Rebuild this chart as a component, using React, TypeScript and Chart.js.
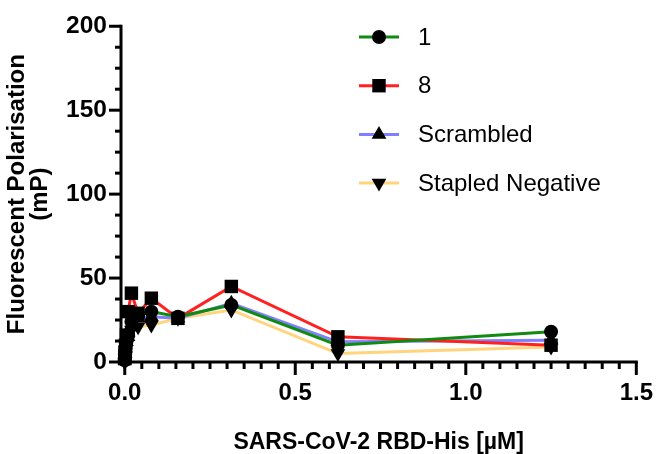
import React, { useEffect, useRef } from "react";
import { Chart, registerables } from "chart.js";

Chart.register(...registerables);

// ---- data ----
const concentrations = [0, 0.0006, 0.0012, 0.0024, 0.0049, 0.0098, 0.0195, 0.039, 0.078, 0.156, 0.3125, 0.625, 1.25];
const series1 = [1, 3, 5, 8, 12, 16, 24, 28, 30, 27, 34, 10, 18];
const series8 = [2, 4, 6, 10, 16, 30, 41, 29, 38, 26, 45, 15, 10];
const scrambled = [1, 3, 5, 8, 12, 15, 22, 26, 27, 26, 35, 12, 13];
const stapledNegative = [0, 2, 4, 7, 10, 13, 19, 21, 22, 26, 31, 5, 9];
const seriesLabels = ["1", "8", "Scrambled", "Stapled Negative"];
const xTickValues = [0, 0.5, 1.0, 1.5];
const yTickValues = [0, 50, 100, 150, 200];
const xAxisTitle = "SARS-CoV-2 RBD-His [µM]";
const yAxisTitle = ["Fluorescent Polarisation", "(mP)"];

// ---- styles ----
const FONT = "'Liberation Sans', Arial, Helvetica, sans-serif";
const lineColors = ["#118a11", "#ff2020", "#7f7fff", "#ffd47c"];
const markerStyles = ["circle", "rect", "triangle", "triangle"];
const markerRadius = [7, 9.5, 8.5, 8.5];
const markerRotation = [0, 0, 0, 180];

const allSeries = [series1, series8, scrambled, stapledNegative];

function drawMarker(ctx: CanvasRenderingContext2D, style: string, x: number, y: number, r: number, rot: number) {
  ctx.save();
  ctx.fillStyle = "#000";
  ctx.beginPath();
  if (style === "circle") {
    ctx.arc(x, y, r, 0, Math.PI * 2);
  } else if (style === "rect") {
    const s = Math.SQRT1_2 * r;
    ctx.rect(x - s, y - s, 2 * s, 2 * s);
  } else {
    let rad = (rot * Math.PI) / 180;
    ctx.moveTo(x + Math.sin(rad) * r, y - Math.cos(rad) * r);
    rad += (2 * Math.PI) / 3;
    ctx.lineTo(x + Math.sin(rad) * r, y - Math.cos(rad) * r);
    rad += (2 * Math.PI) / 3;
    ctx.lineTo(x + Math.sin(rad) * r, y - Math.cos(rad) * r);
    ctx.closePath();
  }
  ctx.fill();
  ctx.restore();
}

const axesPlugin = {
  id: "prismAxes",
  afterDraw(chart: any) {
    const ctx = chart.ctx as CanvasRenderingContext2D;
    const xs = chart.scales.x;
    const ys = chart.scales.y;
    const left = chart.chartArea.left;
    const bottom = chart.chartArea.bottom;
    ctx.save();
    ctx.strokeStyle = "#000";
    ctx.lineWidth = 3;
    ctx.lineCap = "butt";
    ctx.beginPath();
    ctx.moveTo(left, ys.getPixelForValue(200) - 1.5);
    ctx.lineTo(left, bottom + 1.5);
    ctx.stroke();
    ctx.beginPath();
    ctx.moveTo(left - 1.5, bottom);
    ctx.lineTo(xs.getPixelForValue(1.5) + 1.5, bottom);
    ctx.stroke();
    for (let i = 0; i <= 16; i++) {
      const py = ys.getPixelForValue(i * 12.5);
      const len = i % 4 === 0 ? 12 : 6;
      ctx.beginPath();
      ctx.moveTo(left, py);
      ctx.lineTo(left - len, py);
      ctx.stroke();
    }
    for (let i = 0; i <= 30; i++) {
      const px = xs.getPixelForValue(i * 0.05);
      const len = i % 10 === 0 ? 13 : 7;
      ctx.beginPath();
      ctx.moveTo(px, bottom);
      ctx.lineTo(px, bottom + len);
      ctx.stroke();
    }
    ctx.restore();
  },
};

const legendPlugin = {
  id: "prismLegend",
  afterDraw(chart: any) {
    const ctx = chart.ctx as CanvasRenderingContext2D;
    ctx.save();
    const x0 = 359;
    const x1 = 399;
    const y0 = 37;
    const step = 48.7;
    seriesLabels.forEach((label, i) => {
      const y = y0 + i * step;
      ctx.strokeStyle = lineColors[i];
      ctx.lineWidth = 3;
      ctx.beginPath();
      ctx.moveTo(x0, y);
      ctx.lineTo(x1, y);
      ctx.stroke();
      drawMarker(ctx, markerStyles[i], (x0 + x1) / 2, y, markerRadius[i], markerRotation[i]);
      ctx.fillStyle = "#000";
      ctx.font = `24px ${FONT}`;
      ctx.textAlign = "left";
      ctx.textBaseline = "middle";
      ctx.fillText(label, 418, y + 1);
    });
    ctx.restore();
  },
};

export default function App() {
  const canvasRef = useRef<HTMLCanvasElement | null>(null);

  useEffect(() => {
    const canvas = canvasRef.current;
    if (!canvas) return;

    const lineSets = allSeries.map((s, i) => ({
      label: seriesLabels[i],
      data: concentrations.map((c, j) => ({ x: c, y: s[j] })),
      borderColor: lineColors[i],
      backgroundColor: lineColors[i],
      borderWidth: 3,
      pointRadius: 0,
      showLine: true,
      tension: 0,
      clip: false as any,
      order: 2,
    }));
    const markerSets = allSeries.map((s, i) => ({
      label: seriesLabels[i] + " markers",
      data: concentrations.map((c, j) => ({ x: c, y: s[j] })),
      showLine: false,
      pointStyle: markerStyles[i],
      pointRadius: markerRadius[i],
      pointRotation: markerRotation[i],
      pointBackgroundColor: "#000",
      pointBorderColor: "#000",
      pointBorderWidth: 0,
      clip: false as any,
      order: 1,
    }));

    const chart = new Chart(canvas, {
      type: "scatter",
      data: { datasets: [...lineSets, ...markerSets] as any },
      options: {
        responsive: false,
        animation: false,
        devicePixelRatio: 1,
        layout: { padding: { top: 12, right: 21, bottom: 0, left: 0 } },
        plugins: {
          legend: { display: false },
          tooltip: { enabled: false },
        },
        scales: {
          x: {
            type: "linear",
            min: -0.011,
            max: 1.5,
            grid: { display: false, drawTicks: false },
            border: { display: false },
            afterBuildTicks: (scale: any) => {
              scale.ticks = xTickValues.map((v) => ({ value: v }));
            },
            afterFit: (scale: any) => {
              scale.height = 92;
            },
            ticks: {
              color: "#000",
              padding: 19,
              maxRotation: 0,
              autoSkip: false,
              font: { family: FONT, size: 24, weight: "bold", lineHeight: 1 },
              callback: (v: any) => Number(v).toFixed(1),
            },
            title: {
              display: true,
              text: xAxisTitle,
              color: "#000",
              font: { family: FONT, size: 23, weight: "bold", lineHeight: 1 },
              padding: { top: 0, bottom: 0 },
            },
          },
          y: {
            type: "linear",
            min: 0,
            max: 200,
            grid: { display: false, drawTicks: false },
            border: { display: false },
            afterBuildTicks: (scale: any) => {
              scale.ticks = yTickValues.map((v) => ({ value: v }));
            },
            afterFit: (scale: any) => {
              scale.width = 121;
            },
            ticks: {
              color: "#000",
              padding: 14,
              autoSkip: false,
              font: { family: FONT, size: 24.5, weight: "bold", lineHeight: 1 },
              callback: (v: any) => String(v),
            },
            title: {
              display: true,
              text: yAxisTitle,
              color: "#000",
              font: { family: FONT, size: 24, weight: "bold", lineHeight: 0.96 },
              padding: { top: 5.5, bottom: 0 },
            },
          },
        },
      },
      plugins: [axesPlugin, legendPlugin],
    });

    return () => chart.destroy();
  }, []);

  return (
    <div style={{ position: "absolute", left: 0, top: 0, width: 672, height: 454, background: "#fff" }}>
      <canvas ref={canvasRef} width={672} height={454} />
    </div>
  );
}
